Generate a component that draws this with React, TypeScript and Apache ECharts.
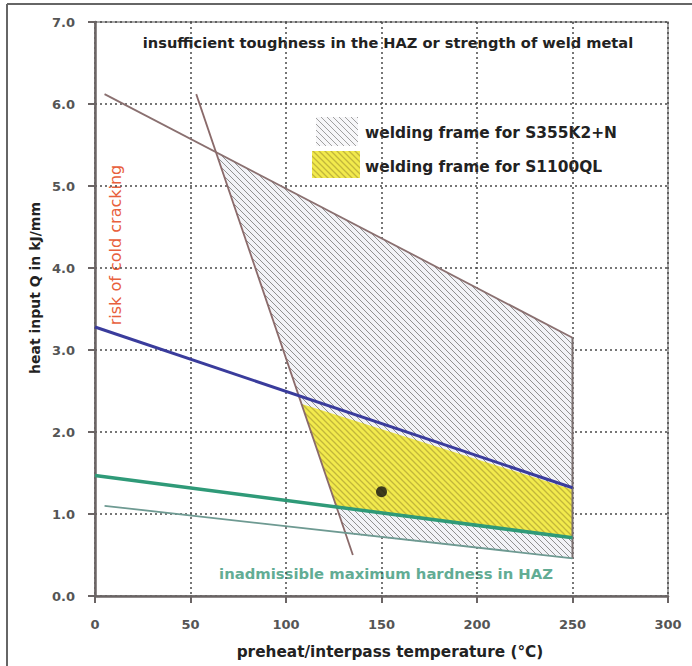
import React, { useEffect, useRef } from "react";
import * as echarts from "echarts";

// ---- data ----
const xTicks = [0, 50, 100, 150, 200, 250, 300];
const yTicks = [0, 1, 2, 3, 4, 5, 6, 7];

// upper limit: insufficient toughness in HAZ
const upperX = [5, 250];
const upperY = [6.12, 3.15];
// steep limit: risk of cold cracking
const crackX = [53, 135];
const crackY = [6.12, 0.5];
// blue upper limit for S1100QL
const blueX = [0, 250];
const blueY = [3.28, 1.32];
// green lower limit for S1100QL
const greenX = [0, 250];
const greenY = [1.47, 0.71];
// thin lower limit for S355K2+N
const thinX = [5, 250];
const thinY = [1.1, 0.46];
// right edge of the welding frames
const edgeX = [250, 250];
const edgeY = [3.15, 0.46];

// welding frame for S355K2+N
const s355X = [63.7, 250, 250, 131.2];
const s355Y = [5.41, 3.15, 0.46, 0.76];
// welding frame for S1100QL
const s1100X = [108.3, 250, 250, 126.6];
const s1100Y = [2.34, 1.3, 0.71, 1.08];

// welding point
const pointX = [150];
const pointY = [1.27];

const FONT = "'DejaVu Sans', 'Liberation Sans', Arial, sans-serif";

function hatch(bg: string, line: string, w: number) {
  const svg =
    `<svg xmlns="http://www.w3.org/2000/svg" width="6" height="6">` +
    `<rect width="6" height="6" fill="${bg}"/>` +
    `<path d="M-1,-1 L7,7 M-1,5 L1,7 M5,-1 L7,1" stroke="${line}" stroke-width="${w}" fill="none"/>` +
    `</svg>`;
  return {
    image: "data:image/svg+xml;charset=utf-8," + encodeURIComponent(svg),
    repeat: "repeat",
    imageWidth: 6,
    imageHeight: 6,
  } as any;
}

function pairs(xs: number[], ys: number[]) {
  return xs.map((x, i) => [x, ys[i]]);
}

function lineSeries(name: string, xs: number[], ys: number[], color: string, width: number, z = 3) {
  return {
    name,
    type: "line",
    data: pairs(xs, ys),
    symbol: "none",
    lineStyle: { color, width },
    z,
    silent: true,
  };
}

function polySeries(name: string, xs: number[], ys: number[], fill: any, z: number) {
  return {
    name,
    type: "custom",
    coordinateSystem: "cartesian2d",
    data: pairs(xs, ys),
    z,
    silent: true,
    renderItem: (params: any, api: any) => {
      if (params.dataIndex !== 0) return null;
      return {
        type: "polygon",
        shape: { points: xs.map((x, i) => api.coord([x, ys[i]])) },
        style: { fill, stroke: "none" },
      };
    },
  };
}

export default function App() {
  const ref = useRef<HTMLDivElement>(null);
  useEffect(() => {
    if (!ref.current) return;
    const chart = echarts.init(ref.current, null, { renderer: "svg" });
    const grayHatch = hatch("#f2f3f7", "#909090", 1);
    const yellowHatch = hatch("#f2ea4c", "#c2b63a", 1.3);
    const legendGray = hatch("#f7f7f9", "#a0a0a0", 1);
    chart.setOption({
      animation: false,
      backgroundColor: "#ffffff",
      grid: {
        left: 95,
        right: 24,
        top: 22,
        bottom: 70,
        show: true,
        borderColor: "#8a8a8a",
        borderWidth: 1.5,
        backgroundColor: "transparent",
      },
      xAxis: {
        type: "value",
        min: xTicks[0],
        max: xTicks[xTicks.length - 1],
        interval: 50,
        axisLine: { show: true, lineStyle: { color: "#6b6565", width: 2.5 } },
        axisTick: { show: true, inside: false, length: 7, lineStyle: { color: "#6b6565", width: 2 } },
        axisLabel: { margin: 22, color: "#555", fontSize: 13, fontWeight: "bold", fontFamily: FONT },
        splitLine: { show: true, lineStyle: { color: "#4a4a4a", width: 1.5, type: [2, 3] } },
      },
      yAxis: {
        type: "value",
        min: yTicks[0],
        max: yTicks[yTicks.length - 1],
        interval: 1,
        axisLine: { show: true, lineStyle: { color: "#6b6565", width: 2.5 } },
        axisTick: { show: true, inside: false, length: 7, lineStyle: { color: "#6b6565", width: 2 } },
        axisLabel: {
          margin: 20,
          color: "#555",
          fontSize: 13,
          fontWeight: "bold",
          fontFamily: FONT,
          formatter: (v: number) => v.toFixed(1),
        },
        splitLine: { show: true, lineStyle: { color: "#4a4a4a", width: 1.5, type: [2, 3] } },
      },
      series: [
        polySeries("welding frame for S355K2+N", s355X, s355Y, grayHatch, 1),
        polySeries("welding frame for S1100QL", s1100X, s1100Y, yellowHatch, 2),
        lineSeries("toughness limit", upperX, upperY, "#8a7070", 1.8),
        lineSeries("cold cracking limit", crackX, crackY, "#8a6a6a", 1.8),
        lineSeries("frame edge", edgeX, edgeY, "#7a6e6e", 2),
        lineSeries("thin lower limit", thinX, thinY, "#6e9a92", 1.8),
        lineSeries("green lower limit", greenX, greenY, "#2f9a78", 3.5),
        lineSeries("blue upper limit", blueX, blueY, "#3a3c9c", 3),
        {
          name: "welding point",
          type: "scatter",
          data: pairs(pointX, pointY),
          symbol: "circle",
          symbolSize: 11,
          itemStyle: { color: "#111" },
          z: 5,
          silent: true,
        },
      ],
      graphic: [
        { type: "line", shape: { x1: 7, y1: 4, x2: 692, y2: 4 }, style: { stroke: "#666", lineWidth: 2 } },
        { type: "line", shape: { x1: 7, y1: 4, x2: 7, y2: 666 }, style: { stroke: "#666", lineWidth: 2 } },
        {
          type: "text",
          x: 388,
          y: 42,
          style: {
            text: "insufficient toughness in the HAZ or strength of weld metal",
            fill: "#222",
            font: `bold 14.6px ${FONT}`,
            align: "center",
            verticalAlign: "middle",
          },
        },
        { type: "rect", shape: { x: 316, y: 117, width: 42, height: 29 }, style: { fill: legendGray } },
        { type: "rect", shape: { x: 312, y: 151, width: 48, height: 27 }, style: { fill: yellowHatch } },
        {
          type: "text",
          x: 365,
          y: 133,
          style: {
            text: "welding frame for S355K2+N",
            fill: "#222",
            font: `bold 15.4px ${FONT}`,
            align: "left",
            verticalAlign: "middle",
          },
        },
        {
          type: "text",
          x: 365,
          y: 167,
          style: {
            text: "welding frame for S1100QL",
            fill: "#222",
            font: `bold 15.4px ${FONT}`,
            align: "left",
            verticalAlign: "middle",
          },
        },
        {
          type: "text",
          x: 115,
          y: 245,
          rotation: Math.PI / 2,
          style: {
            text: "risk of cold cracking",
            fill: "#e8603c",
            font: `16px ${FONT}`,
            align: "center",
            verticalAlign: "middle",
          },
        },
        {
          type: "text",
          x: 386,
          y: 573,
          style: {
            text: "inadmissible maximum hardness in HAZ",
            fill: "#62ac94",
            font: `bold 14.8px ${FONT}`,
            align: "center",
            verticalAlign: "middle",
          },
        },
        {
          type: "text",
          x: 35,
          y: 288,
          rotation: Math.PI / 2,
          style: {
            text: "heat input Q in kJ/mm",
            fill: "#222",
            font: `bold 14px ${FONT}`,
            align: "center",
            verticalAlign: "middle",
          },
        },
        {
          type: "text",
          x: 390,
          y: 652,
          style: {
            text: "preheat/interpass temperature (°C)",
            fill: "#222",
            font: `bold 15.3px ${FONT}`,
            align: "center",
            verticalAlign: "middle",
          },
        },
      ],
    });
    return () => chart.dispose();
  }, []);
  return (
    <div
      ref={ref}
      style={{ position: "fixed", left: 0, top: 0, width: 692, height: 666, background: "#fff" }}
    />
  );
}
